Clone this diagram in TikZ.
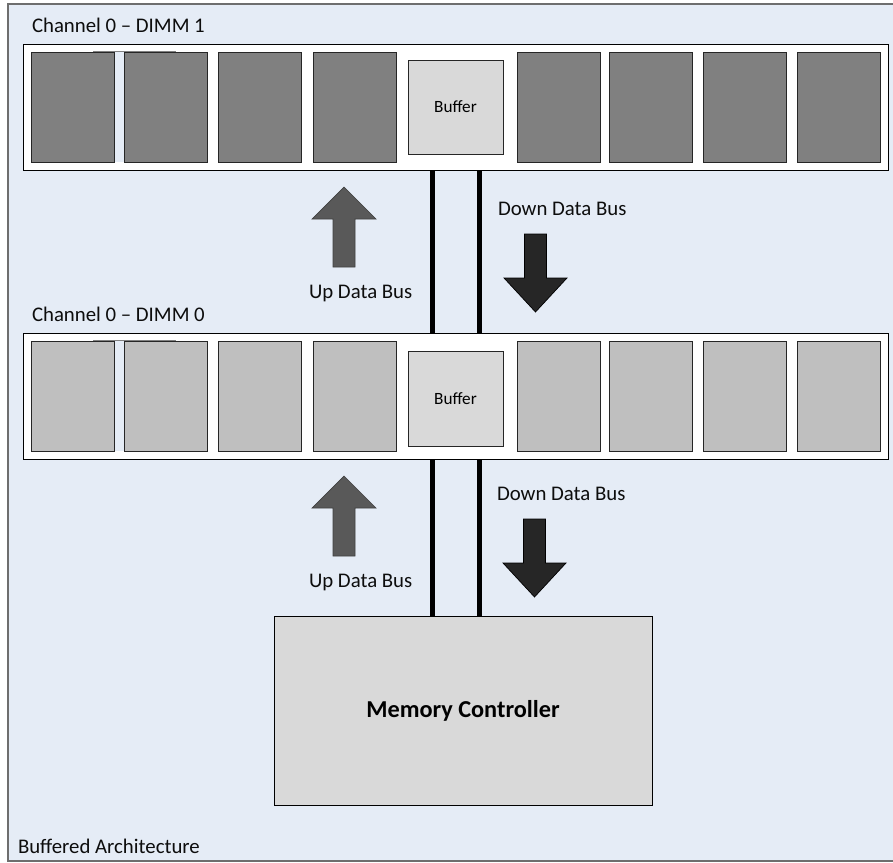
\documentclass[tikz,border=0pt]{standalone}
\usepackage{fontspec}
\setmainfont{Carlito}
\usetikzlibrary{shadows}
\definecolor{panelblue}{RGB}{229,236,246}
\definecolor{framegray}{RGB}{110,110,110}
\definecolor{chipdark}{RGB}{128,128,128}
\definecolor{chiplight}{RGB}{191,191,191}
\definecolor{bufgray}{RGB}{217,217,217}
\definecolor{uparrow}{RGB}{89,89,89}
\definecolor{downarrow}{RGB}{38,38,38}
\definecolor{inkblack}{RGB}{13,13,13}
\tikzset{
  box/.style={inner sep=0pt, outer sep=0pt, draw=black!85, line width=0.8pt},
  strip/.style={box, draw=black, fill=white,
    drop shadow={shadow xshift=1.3pt, shadow yshift=-1.3pt, opacity=1, fill=black!45}},
  chipA/.style={box, fill=chipdark, minimum width=83pt, minimum height=110pt,
    drop shadow={shadow xshift=0.8pt, shadow yshift=-0.8pt, opacity=1, fill=black!40}},
  chipB/.style={chipA, fill=chiplight},
  bufbox/.style={box, fill=bufgray, minimum width=95pt, minimum height=94pt,
    font=\fontsize{17.2}{20}\selectfont,
    drop shadow={shadow xshift=0.8pt, shadow yshift=-0.8pt, opacity=1, fill=black!40}},
  mcbox/.style={box, draw=black, fill=bufgray, minimum width=378pt, minimum height=189pt,
    font=\fontsize{24.3}{28}\selectfont\bfseries,
    drop shadow={shadow xshift=1.2pt, shadow yshift=-1.2pt, opacity=1, fill=black!45}},
  lbl/.style={inner sep=0pt, outer sep=0pt, anchor=base west, text=inkblack,
    font=\fontsize{20.8}{25}\selectfont},
  bus/.style={line width=5pt, draw=black},
  upblock/.pic={
    \path[fill=uparrow, draw=black!75, line width=0.7pt]
      (0,0) -- (32,32) -- (11,32) -- (11,80) -- (-11,80) -- (-11,32) -- (-32,32) -- cycle;},
  downblock/.pic={
    \path[fill=downarrow, draw=black, line width=0.7pt]
      (-11,0) -- (11,0) -- (11,44) -- (31.5,44) -- (0,78) -- (-31.5,44) -- (-11,44) -- cycle;}
}
\begin{document}
\begin{tikzpicture}[x=1pt, y=-1pt]
\useasboundingbox (0,0) rectangle (893,862);
\fill[white] (0,0) rectangle (893,862);

% outer panel
\path[fill=panelblue, draw=framegray, line width=1.5pt] (8,4) rectangle (910,861);

% module 1 (upper)
\node[strip, minimum width=865pt, minimum height=126pt] (dimm1) at (455.5,107) {};
\fill[panelblue] (114,52) rectangle (124,162);
\draw[black!50, line width=0.8pt] (93,51.6) -- (176,51.6);
\foreach \x [count=\i] in {31,124,218,313,517,609,703,797}
  \node[chipA] (a\i) at (\x+41.5,107) {};
\node[bufbox] (buf1) at (455.5,107) {Buffer};

% module 0 (lower)
\node[strip, minimum width=865pt, minimum height=126pt] (dimm0) at (455.5,396) {};
\fill[panelblue] (114,341) rectangle (124,451);
\draw[black!50, line width=0.8pt] (93,340.6) -- (176,340.6);
\foreach \x [count=\i] in {31,124,218,313,517,609,703,797}
  \node[chipB] (b\i) at (\x+41.5,396) {};
\node[bufbox, minimum height=95pt] (buf0) at (455.5,398.5) {Buffer};

% memory controller
\node[mcbox] (mc) at (463,710.5) {Memory Controller};

% data bus wires
\coordinate (busL) at (432.5,0);
\coordinate (busR) at (479.5,0);
\draw[bus] (dimm1.south -| busL) -- (dimm0.north -| busL);
\draw[bus] (dimm1.south -| busR) -- (dimm0.north -| busR);
\draw[bus] (dimm0.south -| busL) -- (mc.north -| busL);
\draw[bus] (dimm0.south -| busR) -- (mc.north -| busR);

% direction arrows
\pic at (344,187) {upblock};
\pic at (535.5,234) {downblock};
\pic at (344,476) {upblock};
\pic at (534.5,519) {downblock};

% labels
\node[lbl] (t1) at (32,32) {Channel 0 \textendash{} DIMM 1};
\node[lbl] (t0) at (32,321) {Channel 0 \textendash{} DIMM 0};
\node[lbl] (up1) at (309,298) {Up Data Bus};
\node[lbl] (dn1) at (498,215) {Down Data Bus};
\node[lbl] (up0) at (309,587) {Up Data Bus};
\node[lbl] (dn0) at (497,500) {Down Data Bus};
\node[lbl] (arch) at (18,853) {Buffered Architecture};
\end{tikzpicture}
\end{document}
